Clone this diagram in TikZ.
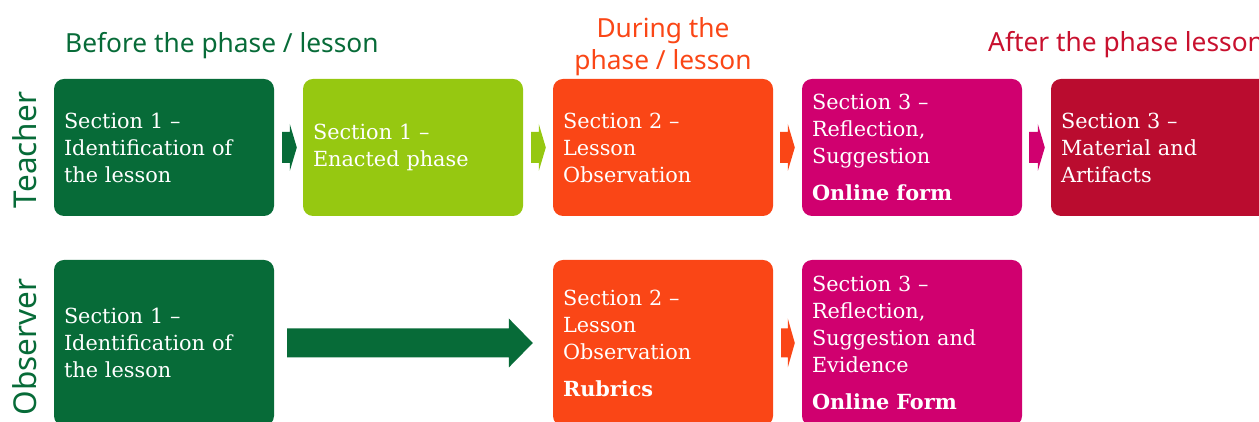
\documentclass[tikz,border=0pt]{standalone}
\usepackage{fontspec}
\setmainfont{DejaVu Serif}
\newfontfamily\headfont{Noto Sans}
\usetikzlibrary{calc}
\definecolor{darkgreen}{HTML}{076B38}
\definecolor{limegreen}{HTML}{96C811}
\definecolor{flame}{HTML}{FA4616}
\definecolor{magenta}{HTML}{D0006F}
\definecolor{crimson}{HTML}{BA0C2F}
\definecolor{headred}{HTML}{C8102E}

% block arrow: from, to, colour, start gap, end gap, head length, shaft half height, head half height
\newcommand\blockarrow[8]{%
  \fill[#3] let \p1=(#1.east), \p2=(#2.west) in
    (\x1+#4pt,\y1+#7pt) -- (\x2-#5pt-#6pt,\y1+#7pt) -- (\x2-#5pt-#6pt,\y1+#8pt)
    -- (\x2-#5pt,\y1) -- (\x2-#5pt-#6pt,\y1-#8pt) -- (\x2-#5pt-#6pt,\y1-#7pt)
    -- (\x1+#4pt,\y1-#7pt) -- cycle;}

\tikzset{
  stage/.style={fill=#1, rounded corners=10pt, text=white, text width=200pt,
    inner xsep=10pt, inner ysep=0pt, align=left,
    font=\fontsize{20.8}{27}\selectfont},
  toprow/.style={minimum height=137pt},
  bottomrow/.style={minimum height=166pt},
  heading/.style={font=\headfont\fontsize{26.3}{32}\selectfont, text=#1, inner sep=0pt},
  lane/.style={font=\headfont\fontsize{31.5}{36}\selectfont, text=darkgreen,
    rotate=90, inner sep=0pt},
}

\begin{document}
\begin{tikzpicture}[x=1pt,y=1pt]
\useasboundingbox (0,0) rectangle (1259,422);
\clip (0,0) rectangle (1259,422);

% phase headings
\node[heading=darkgreen, anchor=base west] (hbefore) at (65,369) {Before the phase / lesson};
\node[heading=flame, anchor=base, align=center] (hduring) at (663,352) {During the\\phase / lesson};
\node[heading=headred, anchor=base west] (hafter) at (988,370) {After the phase lesson};

% lane labels
\node[lane] (lteacher) at (25,272) {Teacher};
\node[lane] (lobserver) at (25,75) {Observer};

% teacher row
\node[stage=darkgreen, toprow] (t1) at (164,274.5) {Section 1 --\\Identification of\\the lesson};
\node[stage=limegreen, toprow] (t2) at (413,274.5) {Section 1 --\\Enacted phase};
\node[stage=flame, toprow] (t3) at (663,274.5) {Section 2 --\\Lesson\\Observation};
\node[stage=magenta, toprow] (t4) at (912,274.5) {Section 3 --\\Reflection,\\Suggestion\\[10pt]\textbf{Online form}};
\node[stage=crimson, toprow] (t5) at (1161,274.5) {Section 3 --\\Material and\\Artifacts};

% observer row
\node[stage=darkgreen, bottomrow] (o1) at (164,79) {Section 1 --\\Identification of\\the lesson};
\node[stage=flame, bottomrow] (o3) at (663,79) {Section 2 --\\Lesson\\Observation\\[10pt]\textbf{Rubrics}};
\node[stage=magenta, bottomrow] (o4) at (912,79) {Section 3 --\\Reflection,\\Suggestion and\\Evidence\\[10pt]\textbf{Online Form}};

% connectors
\blockarrow{t1}{t2}{darkgreen}{8}{6}{7}{15.5}{23.5}
\blockarrow{t2}{t3}{limegreen}{8}{7}{7}{15.5}{23.5}
\blockarrow{t3}{t4}{flame}{7}{7}{7}{15.5}{23.5}
\blockarrow{t4}{t5}{magenta}{7}{6}{7}{15.5}{23.5}
\blockarrow{o1}{o3}{darkgreen}{13}{20}{24}{14.5}{24.5}
\blockarrow{o3}{o4}{flame}{8}{7}{7}{14.5}{24.5}
\end{tikzpicture}
\end{document}
